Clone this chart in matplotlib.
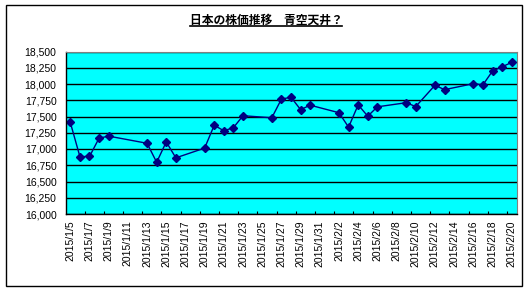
import datetime as dt
import matplotlib
matplotlib.use("Agg")
import matplotlib.pyplot as plt
import matplotlib.dates as mdates
from matplotlib.patches import Rectangle
from matplotlib.lines import Line2D
from matplotlib.ticker import FuncFormatter, FixedLocator

# Nikkei closing prices
dates = ["2015/1/5", "2015/1/6", "2015/1/7", "2015/1/8", "2015/1/9",
         "2015/1/13", "2015/1/14", "2015/1/15", "2015/1/16",
         "2015/1/19", "2015/1/20", "2015/1/21", "2015/1/22", "2015/1/23",
         "2015/1/26", "2015/1/27", "2015/1/28", "2015/1/29", "2015/1/30",
         "2015/2/2", "2015/2/3", "2015/2/4", "2015/2/5", "2015/2/6",
         "2015/2/9", "2015/2/10", "2015/2/12", "2015/2/13",
         "2015/2/16", "2015/2/17", "2015/2/18", "2015/2/19", "2015/2/20"]
prices = [17409, 16883, 16885, 17167, 17198,
          17088, 16796, 17109, 16864,
          17014, 17366, 17280, 17329, 17512,
          17480, 17768, 17796, 17606, 17674,
          17558, 17336, 17679, 17505, 17649,
          17712, 17653, 17980, 17913,
          18005, 17987, 18199, 18265, 18332]
title = "日本の株価推移　青空天井？"
y_ticks = list(range(16000, 18501, 250))

plt.rcParams['font.family'] = ['Liberation Sans', 'Noto Sans CJK JP']

x = [dt.datetime.strptime(d, "%Y/%m/%d") for d in dates]
start, end = x[0], x[-1]
half = dt.timedelta(hours=12)

W, H = 530, 292
fig = plt.figure(figsize=(W / 100, H / 100), dpi=100)
ax = fig.add_axes([65.5 / W, 1 - 214 / H, 451 / W, 162.5 / H])
ax.set_facecolor('#00FFFF')

ax.plot(x, prices, color='#000080', lw=1, marker='D', markersize=3.8,
        markerfacecolor='#000080', markeredgecolor='#000080')

ax.set_xlim(start - half, end + half)
ax.set_ylim(16000, 18500)
ax.set_yticks(y_ticks)
ax.yaxis.set_major_formatter(FuncFormatter(lambda v, p: f"{int(v):,}"))
ax.grid(axis='y', color='black', lw=1)
ax.set_axisbelow(True)

major = [start + dt.timedelta(days=2 * i) for i in range(24)]
minor = [start + dt.timedelta(days=2 * i + 1) + half for i in range(23)]
ax.xaxis.set_major_locator(FixedLocator(mdates.date2num(major)))
ax.xaxis.set_minor_locator(FixedLocator(mdates.date2num(minor)))
ax.xaxis.set_major_formatter(FuncFormatter(
    lambda v, p: (lambda d: f"{d.year}/{d.month}/{d.day}")(mdates.num2date(v))))
for lab in ax.get_xticklabels():
    lab.set_rotation(90)

ax.tick_params(axis='x', which='major', length=0, pad=4.5, labelsize=7.5)
ax.tick_params(axis='x', which='minor', direction='in', length=2.5, width=0.8)
ax.tick_params(axis='y', length=0, pad=6.5, labelsize=7.5)

for s in ['top', 'right']:
    ax.spines[s].set_color('#808080')
    ax.spines[s].set_linewidth(0.8)
for s in ['left', 'bottom']:
    ax.spines[s].set_color('black')
    ax.spines[s].set_linewidth(1)

# outer chart border
fig.patches.append(Rectangle((5.5 / W, 6 / H), 516 / W, 281 / H,
                             transform=fig.transFigure, fill=False,
                             edgecolor='black', lw=1))

t = fig.text(266 / W, 1 - 20 / H, title, ha='center', va='center',
             fontsize=8.5, fontweight='bold',
             family=['Noto Sans CJK JP', 'DejaVu Sans'])

# underline the title
fig.canvas.draw()
bb = t.get_window_extent(fig.canvas.get_renderer())
uy = (bb.y0 + 1) / H
fig.add_artist(Line2D([bb.x0 / W, bb.x1 / W], [uy, uy],
                      transform=fig.transFigure, color='black', lw=1.2))

fig.savefig("out.png", dpi=100)
